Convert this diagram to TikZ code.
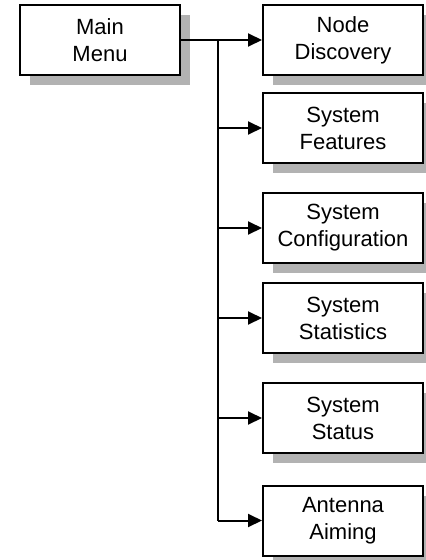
\documentclass[tikz,border=0pt]{standalone}
\usepackage{fontspec}
\setmainfont{Liberation Sans}
\usetikzlibrary{positioning, shadows, arrows.meta}

\tikzset{
    menubox/.style={draw, line width=2pt, fill=white, align=center,
        minimum width=160pt, minimum height=70pt, inner sep=0pt,
        font=\fontsize{22}{27}\selectfont,
        drop shadow={shadow xshift=10pt, shadow yshift=-10pt, fill=shadowgray, opacity=1}},
    link/.style={line width=2pt, -{Triangle[length=14pt, width=13pt]}}
}
\definecolor{shadowgray}{RGB}{178,178,178}

\begin{document}
\begin{tikzpicture}[x=1pt, y=-1pt]
    \useasboundingbox (0,0) rectangle (426,560);

    \node[menubox] (main) at (100,40) {Main\\Menu};
    \node[menubox] (disco) at (343,40) {Node\\Discovery};
    \node[menubox] (feat) at (343,128) {System\\Features};
    \node[menubox] (conf) at (343,228) {System\\Configuration};
    \node[menubox] (stats) at (343,318) {System\\Statistics};
    \node[menubox] (status) at (343,418) {System\\Status};
    \node[menubox] (aim) at (343,520.5) {Antenna\\Aiming};

    \coordinate (bus) at (218,40);

    \draw[link] (main.east) -- (disco.west);
    \draw[line width=2pt] (bus) -- (bus |- aim.west);
    \draw[link] (bus |- feat.west) -- (feat.west);
    \draw[link] (bus |- conf.west) -- (conf.west);
    \draw[link] (bus |- stats.west) -- (stats.west);
    \draw[link] (bus |- status.west) -- (status.west);
    \draw[link] (bus |- aim.west) -- (aim.west);
\end{tikzpicture}
\end{document}
